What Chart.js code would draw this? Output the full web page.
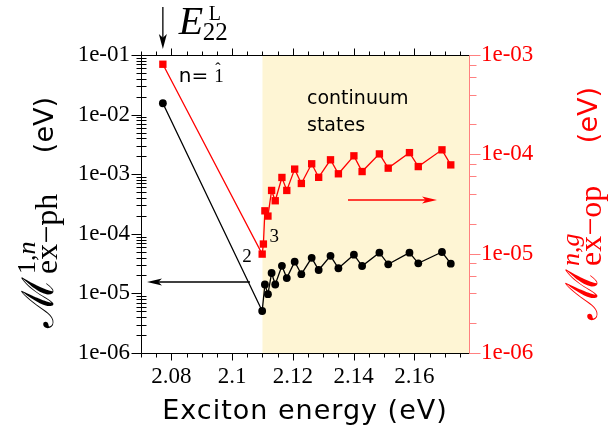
<!DOCTYPE html>
<html><head><meta charset="utf-8">
<script src="https://cdn.jsdelivr.net/npm/chart.js@4.4.0/dist/chart.umd.min.js"></script>
<style>html,body{margin:0;padding:0;background:#fff;}#wrap{width:610px;height:433px;}</style>
</head><body><div id="wrap"><canvas id="c" width="610" height="433"></canvas></div>
<script>
// ---- data ----
const energies = [2.0772, 2.1099, 2.1103, 2.1108, 2.1118, 2.1130, 2.1142, 2.1164, 2.1180, 2.1206, 2.1228, 2.1262, 2.1285, 2.1324, 2.1350, 2.1401, 2.1428, 2.1485, 2.1514, 2.1584, 2.1613, 2.1691, 2.1720];
const mExPh = [1.55e-2, 5.07e-6, null, 1.41e-5, 9.7e-6, 2.20e-5, 1.41e-5, 2.90e-5, 1.81e-5, 3.40e-5, 2.10e-5, 3.95e-5, 2.47e-5, 4.27e-5, 2.64e-5, 4.46e-5, 2.88e-5, 4.82e-5, 3.08e-5, 4.82e-5, 3.20e-5, 4.95e-5, 3.15e-5];
const mExOp = [8.07e-4, 9.9e-6, 1.25e-5, 2.70e-5, 2.39e-5, 4.33e-5, 3.41e-5, 5.85e-5, 4.33e-5, 7.10e-5, 5.09e-5, 8.03e-5, 5.87e-5, 8.81e-5, 6.37e-5, 9.66e-5, 6.71e-5, 1.01e-4, 7.26e-5, 1.04e-4, 7.53e-5, 1.11e-4, 7.83e-5];
const continuumStart = 2.11;
const xRange = [2.07, 2.178];
const xTickValues = [2.08, 2.10, 2.12, 2.14, 2.16];
const xTickLabels = ['2.08', '2.1', '2.12', '2.14', '2.16'];
const xMinorStep = 0.005;
const leftTickValues = [1e-6, 1e-5, 1e-4, 1e-3, 1e-2, 1e-1];
const leftTickLabels = ['1e-06', '1e-05', '1e-04', '1e-03', '1e-02', '1e-01'];
const rightTickValues = [1e-6, 1e-5, 1e-4, 1e-3];
const rightTickLabels = ['1e-06', '1e-05', '1e-04', '1e-03'];
const leftMinorMultipliers = [2, 3, 4, 5, 6, 7, 8, 9];
const rightMinorMultipliers = [2, 4, 6, 8];

const RED = '#ff0000';
const RED_AXIS = '#ff8080';
const SHADE = '#fef5d4';
const SERIF = '"Liberation Serif", "DejaVu Serif", serif';
const SANS = '"DejaVu Sans", sans-serif';

function arrow(ctx, x1, y1, x2, y2, color, headLen, headW) {
  const a = Math.atan2(y2 - y1, x2 - x1);
  ctx.save();
  ctx.strokeStyle = color; ctx.fillStyle = color; ctx.lineWidth = 1.3;
  ctx.beginPath(); ctx.moveTo(x1, y1);
  ctx.lineTo(x2 - Math.cos(a) * headLen * 0.6, y2 - Math.sin(a) * headLen * 0.6); ctx.stroke();
  ctx.translate(x2, y2); ctx.rotate(a);
  ctx.beginPath(); ctx.moveTo(0, 0); ctx.lineTo(-headLen, -headW / 2);
  ctx.lineTo(-headLen * 0.75, 0); ctx.lineTo(-headLen, headW / 2); ctx.closePath(); ctx.fill();
  ctx.restore();
}

function mathTitle(ctx, baseX, startY, endY, color, supParts, subParts) {
  ctx.save();
  ctx.translate(baseX, startY);
  ctx.rotate(-Math.PI / 2);
  ctx.fillStyle = color; ctx.textBaseline = 'alphabetic'; ctx.textAlign = 'left';
  ctx.font = '44px "DejaVu Serif", serif';
  ctx.fillText('ℳ', 0, 0);
  const u0 = ctx.measureText('ℳ').width + 3;
  let u = u0;
  for (const [t, it] of supParts) {
    ctx.font = (it ? 'italic ' : '') + '26px ' + SERIF;
    ctx.fillText(t, u, -18); u += ctx.measureText(t).width;
  }
  u = u0;
  for (const [t, it] of subParts) {
    ctx.font = (it ? 'italic ' : '') + '32px ' + SERIF;
    ctx.fillText(t, u, 4); u += ctx.measureText(t).width;
  }
  ctx.font = '27px ' + SANS;
  const w = ctx.measureText('(eV)').width;
  ctx.fillText('(eV)', (startY - endY) - w, 0);
  ctx.restore();
}

const deco = {
  id: 'deco',
  beforeDatasetsDraw(chart) {
    const { ctx, chartArea: ca, scales } = chart;
    const xs = scales.x.getPixelForValue(continuumStart);
    ctx.save(); ctx.fillStyle = SHADE;
    ctx.fillRect(xs, ca.top, ca.right - xs, ca.bottom - ca.top);
    ctx.restore();
  },
  afterDraw(chart) {
    const { ctx, chartArea: ca, scales } = chart;
    const X = scales.x, YL = scales.yL, YR = scales.yR;
    const L = Math.round(ca.left) + 0.5, R = Math.round(ca.right) + 0.5;
    const T = Math.round(ca.top) + 0.5, B = Math.round(ca.bottom) + 0.5;
    ctx.save();
    ctx.lineWidth = 1;
    ctx.strokeStyle = '#000';
    ctx.beginPath(); ctx.moveTo(L, T); ctx.lineTo(R, T); ctx.moveTo(L, B); ctx.lineTo(R, B);
    ctx.moveTo(L, T); ctx.lineTo(L, B); ctx.stroke();
    ctx.strokeStyle = RED_AXIS;
    ctx.beginPath(); ctx.moveTo(R, T); ctx.lineTo(R, B); ctx.stroke();
    ctx.strokeStyle = '#000';
    ctx.beginPath();
    const k0 = Math.ceil(xRange[0] / xMinorStep - 1e-6), k1 = Math.floor(xRange[1] / xMinorStep + 1e-6);
    for (let k = k0; k <= k1; k++) {
      const v = k * xMinorStep;
      const major = xTickValues.some(t => Math.abs(t - v) < 1e-6);
      const px = Math.round(X.getPixelForValue(v)) + 0.5;
      const len = major ? 7 : 4;
      ctx.moveTo(px, B); ctx.lineTo(px, B + len);
      ctx.moveTo(px, T); ctx.lineTo(px, T - len);
    }
    for (let e = -6; e <= -1; e++) {
      const py = Math.round(YL.getPixelForValue(Math.pow(10, e))) + 0.5;
      ctx.moveTo(L - 10, py); ctx.lineTo(L, py);
      if (e < -1) for (const m of leftMinorMultipliers) {
        const p = Math.round(YL.getPixelForValue(m * Math.pow(10, e))) + 0.5;
        ctx.moveTo(L - 5, p); ctx.lineTo(L + 5, p);
      }
    }
    ctx.stroke();
    ctx.strokeStyle = RED_AXIS;
    ctx.beginPath();
    for (let e = -6; e <= -3; e++) {
      const py = Math.round(YR.getPixelForValue(Math.pow(10, e))) + 0.5;
      ctx.moveTo(R, py); ctx.lineTo(R + 11, py);
      if (e < -3) for (const m of rightMinorMultipliers) {
        const p = Math.round(YR.getPixelForValue(m * Math.pow(10, e))) + 0.5;
        ctx.moveTo(R, p); ctx.lineTo(R + 7, p);
      }
    }
    ctx.stroke();

    const x1 = X.getPixelForValue(energies[0]);
    arrow(ctx, x1, 7, x1, 49, '#000', 15, 8);
    ctx.fillStyle = '#000'; ctx.textBaseline = 'alphabetic'; ctx.textAlign = 'left';
    ctx.font = 'italic 40px ' + SERIF; ctx.fillText('E', x1 + 16, 34);
    ctx.font = '20px ' + SERIF; ctx.fillText('L', x1 + 46, 20);
    ctx.font = '25px ' + SERIF; ctx.fillText('22', x1 + 40, 40);

    const rp1x = X.getPixelForValue(energies[0]), rp1y = YR.getPixelForValue(mExOp[0]);
    ctx.font = '20px ' + SANS; ctx.fillText('n=', rp1x + 16, rp1y + 18);
    const nw = ctx.measureText('n=').width;
    ctx.font = '19px ' + SERIF; ctx.fillText('1', rp1x + 16 + nw + 6, rp1y + 18);
    ctx.font = '16px ' + SERIF; ctx.fillText('ˆ', rp1x + 16 + nw + 7, rp1y + 10);

    const p2x = X.getPixelForValue(energies[1]), p2y = YR.getPixelForValue(mExOp[1]);
    const p3x = X.getPixelForValue(energies[2]), p3y = YR.getPixelForValue(mExOp[2]);
    ctx.font = '19px ' + SERIF;
    ctx.fillText('2', p2x - 20, p2y + 8);
    ctx.fillText('3', p3x + 6, p3y - 2);

    ctx.font = '19px ' + SANS;
    ctx.fillText('continuum', 307, 104);
    ctx.fillText('states', 307, 131);

    arrow(ctx, 348, 200, 437, 200, RED, 15, 7);
    arrow(ctx, 250, 282, 147, 282, '#000', 15, 7);

    ctx.fillStyle = '#000';
    ctx.font = '27px ' + SANS; ctx.textAlign = 'center';
    try { ctx.letterSpacing = '1px'; } catch (e) {}
    ctx.fillText('Exciton energy (eV)', (ca.left + ca.right) / 2, 419);
    try { ctx.letterSpacing = '0px'; } catch (e) {}
    ctx.textAlign = 'left';
    ctx.restore();

    mathTitle(ctx, 53, 328, 97, '#000', [['1,', false], ['n', true]], [['ex−ph', false]]);
    mathTitle(ctx, 597, 320, 87, RED, [['n', true], [',', false], ['g', true]], [['ex−op', false]]);
  }
};

new Chart(document.getElementById('c'), {
  type: 'line',
  data: {
    datasets: [
      { label: 'ex-op', data: energies.map((e, i) => ({ x: e, y: mExOp[i] })), yAxisID: 'yR',
        borderColor: RED, backgroundColor: RED, borderWidth: 1.3, pointStyle: 'rect', pointRadius: 5.2,
        pointBorderWidth: 0, spanGaps: true, tension: 0, clip: false },
      { label: 'ex-ph', data: energies.map((e, i) => ({ x: e, y: mExPh[i] })), yAxisID: 'yL',
        borderColor: '#000', backgroundColor: '#000', borderWidth: 1.3, pointStyle: 'circle', pointRadius: 3.9,
        pointBorderWidth: 0, spanGaps: true, tension: 0, clip: false }
    ]
  },
  options: {
    responsive: false, animation: false, devicePixelRatio: 1,
    layout: { padding: { top: 55, left: 0, right: 0, bottom: 0 } },
    plugins: { legend: { display: false }, tooltip: { enabled: false } },
    scales: {
      x: {
        type: 'linear', position: 'bottom', min: xRange[0], max: xRange[1],
        grid: { display: false, drawTicks: false }, border: { display: false },
        afterBuildTicks: s => { s.ticks = xTickValues.map(v => ({ value: v })); },
        afterFit: s => { s.height = 433 - 353; },
        ticks: { callback: (v, i) => xTickLabels[i], autoSkip: false, maxRotation: 0, padding: 10,
          color: '#000', font: { family: 'Liberation Serif', size: 23 } }
      },
      yL: {
        type: 'logarithmic', position: 'left', min: 1e-6, max: 1e-1,
        grid: { display: false, drawTicks: false }, border: { display: false },
        afterBuildTicks: s => { s.ticks = leftTickValues.map(v => ({ value: v, major: true })); },
        afterFit: s => { s.width = 141; },
        ticks: { callback: (v, i) => leftTickLabels[i], autoSkip: false, padding: 11,
          color: '#000', font: { family: 'Liberation Serif', size: 23 } }
      },
      yR: {
        type: 'logarithmic', position: 'right', min: 1e-6, max: 1e-3,
        grid: { display: false, drawTicks: false }, border: { display: false },
        afterBuildTicks: s => { s.ticks = rightTickValues.map(v => ({ value: v, major: true })); },
        afterFit: s => { s.width = 610 - 469; },
        ticks: { callback: (v, i) => rightTickLabels[i], autoSkip: false, padding: 12,
          color: RED, font: { family: 'Liberation Serif', size: 23 } }
      }
    }
  },
  plugins: [deco]
});
</script>
</body></html>
